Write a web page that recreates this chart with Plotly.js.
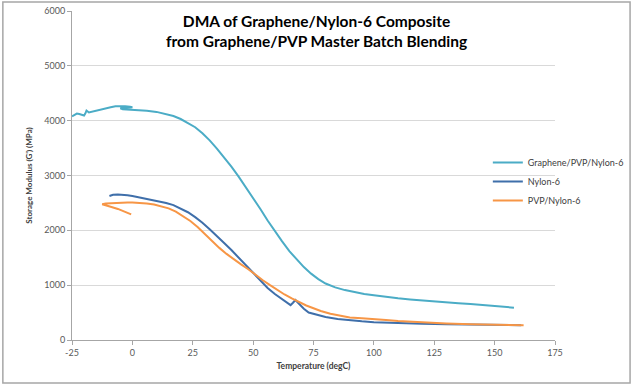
<!DOCTYPE html>
<html>
<head>
<meta charset="utf-8">
<script src="https://cdn.plot.ly/plotly-3.0.1.min.js"></script>
<style>html,body{margin:0;padding:0;background:#fff;}#chart{width:640px;height:387px;}</style>
</head>
<body>
<div id="chart"></div>
<script>
const seriesNames = ["Graphene/PVP/Nylon-6", "Nylon-6", "PVP/Nylon-6"];
const chartTitle = "<b>DMA of Graphene/Nylon-6 Composite<br>from Graphene/PVP Master Batch Blending</b>";

const grapheneTemp = [-25,-24,-23,-22,-21,-20,-19.5,-19,-18,-15,-12,-9,-7,-5,-3,-1,0,-1,-3,-5,-4,-2,0,3,6,10,14,17,20,23,26,29,32,35,38,41,44,47,50,53,56,59,62,65,68,71,74,77,80,84,88,92,96,100,105,110,115,120,125,130,135,140,145,150,155,158];
const grapheneMod = [4080,4110,4130,4120,4100,4095,4130,4185,4150,4185,4215,4245,4262,4268,4265,4255,4245,4238,4232,4225,4210,4205,4200,4195,4180,4160,4125,4085,4030,3960,3880,3770,3640,3490,3330,3160,2980,2790,2600,2390,2180,1980,1800,1620,1470,1330,1210,1110,1030,960,910,870,840,815,785,760,740,720,700,685,670,655,640,625,605,590];

const nylonTemp = [-9.5,-8,-6,-4,-2,0,3,6,10,14,17,20,23,26,29,32,35,38,41,44,47,50,53,56,59,62,64,65.5,66.5,67.5,69,71,73,76,80,85,90,95,100,110,120,130,140,150,161];
const nylonMod = [2625,2650,2655,2650,2640,2625,2600,2575,2540,2500,2460,2400,2330,2240,2140,2020,1900,1770,1640,1500,1360,1210,1080,950,840,745,680,635,680,730,660,570,500,460,420,385,360,340,325,305,295,285,280,275,270];

const pvpTemp = [-0.5,-3,-6,-9,-12,-12.5,-11,-8,-5,-2,0,3,6,9,12,15,18,21,24,27,30,33,36,39,42,45,48,51,54,57,60,63,66,69,72,75,78,82,86,90,95,100,105,110,115,120,130,140,150,155,162];
const pvpMod = [2290,2340,2390,2430,2460,2475,2490,2500,2505,2508,2507,2500,2490,2470,2440,2400,2340,2260,2170,2060,1930,1800,1680,1570,1470,1380,1290,1185,1090,1000,910,830,760,690,630,580,530,480,440,410,395,385,365,345,332,318,300,285,275,268,270];

const xTickVals = [-25,0,25,50,75,100,125,150,175];
const yTickVals = [0,1000,2000,3000,4000,5000,6000];

const colors = ["#4BACC6", "#3F6FAA", "#F79646"];
const font = "Lato, 'Open Sans', 'DejaVu Sans', sans-serif";

const traces = [
  {x: grapheneTemp, y: grapheneMod, name: seriesNames[0], mode: "lines", line: {color: colors[0], width: 2}},
  {x: nylonTemp, y: nylonMod, name: seriesNames[1], mode: "lines", line: {color: colors[1], width: 2}},
  {x: pvpTemp, y: pvpMod, name: seriesNames[2], mode: "lines", line: {color: colors[2], width: 2}}
];

const L = 72, R = 561, T = 11, B = 340;
const pw = R - L, ph = B - T;
function px(v){ return (v - L) / pw; }
function py(v){ return (B - v) / ph; }

const layout = {
  width: 640, height: 387,
  margin: {l: L, r: 640 - R, t: T, b: 387 - B, pad: 0},
  paper_bgcolor: "#fff", plot_bgcolor: "#fff",
  font: {family: font, color: "#595959", size: 9},
  xaxis: {
    range: [-25, 175], tickvals: xTickVals, ticktext: xTickVals.map(String),
    showgrid: false, zeroline: false, showline: true, linecolor: "#a6a6a6", linewidth: 1,
    ticks: "outside", ticklen: 4, tickcolor: "#a6a6a6",
    tickfont: {size: 9, color: "#595959", family: font},
    title: {text: "<b>Temperature (degC)</b>", font: {size: 8.5, color: "#404040", family: font}, standoff: 6}
  },
  yaxis: {
    range: [0, 6000], tickvals: yTickVals, ticktext: yTickVals.map(String),
    showgrid: true, gridcolor: "#d9d9d9", gridwidth: 1, zeroline: false,
    showline: true, linecolor: "#a6a6a6", linewidth: 1,
    ticks: "outside", ticklen: 4, tickcolor: "#a6a6a6",
    tickfont: {size: 9, color: "#595959", family: font},
    title: {text: "<b>Storage Modulus (G') (MPa)</b>", font: {size: 8, color: "#404040", family: font}, standoff: 10}
  },
  legend: {
    x: px(493), xanchor: "left", y: py(148), yanchor: "top",
    bgcolor: "rgba(0,0,0,0)", font: {size: 9, color: "#404040", family: font},
    tracegroupgap: 0, itemwidth: 30
  },
  showlegend: true,
  annotations: [
    {text: chartTitle, xref: "paper", yref: "paper", x: px(320), y: py(31), xanchor: "center", yanchor: "middle",
     showarrow: false, align: "center", font: {family: font, size: 15.5, color: "#000"}}
  ],
  shapes: [
    {type: "rect", xref: "paper", yref: "paper", x0: px(2), x1: px(637), y0: py(383), y1: py(2),
     line: {color: "#a6a6a6", width: 1.5}, fillcolor: "rgba(0,0,0,0)", layer: "below"}
  ]
};

Plotly.newPlot("chart", traces, layout, {displayModeBar: false, staticPlot: true});
</script>
</body>
</html>
